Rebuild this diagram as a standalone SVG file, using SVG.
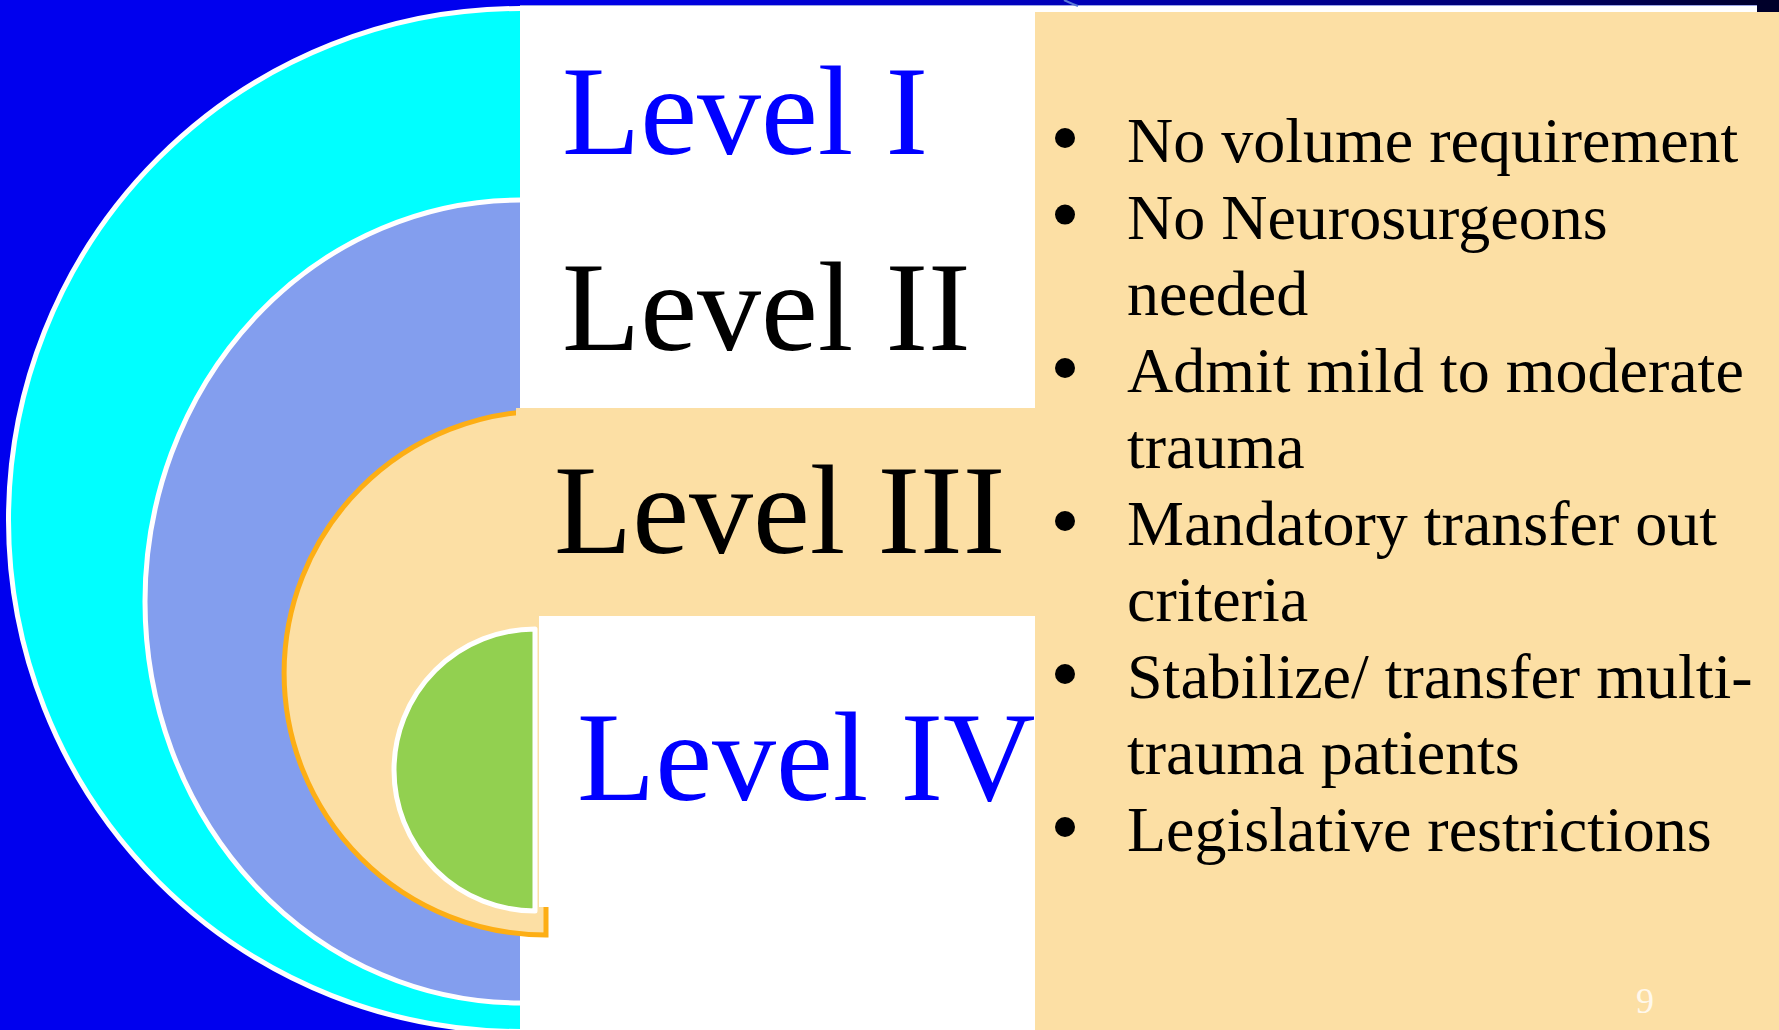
<svg xmlns="http://www.w3.org/2000/svg" width="1779" height="1030" viewBox="0 0 1779 1030">
  <defs>
    <linearGradient id="topStrip" x1="0" y1="0" x2="1779" y2="0" gradientUnits="userSpaceOnUse">
      <stop offset="0.29" stop-color="#0000EE"/>
      <stop offset="0.6" stop-color="#0000B8"/>
      <stop offset="0.85" stop-color="#000070"/>
      <stop offset="1" stop-color="#000028"/>
    </linearGradient>
  </defs>
  <style>
    .lvl { font-family: "Liberation Serif", "Times New Roman", serif; font-size: 128px; }
    .blue { fill: #0000FF; }
    .black { fill: #000000; }
    .bul { font-family: "Liberation Serif", "Times New Roman", serif; font-size: 64px; fill: #000000; }
    .dot { fill: #000000; }
    .ring { stroke: #FFFFFF; stroke-width: 5; fill: none; }
  </style>

  <!-- background -->
  <rect x="0" y="0" width="1779" height="1030" fill="#0000EE"/>
  <rect x="0" y="0" width="1779" height="6" fill="url(#topStrip)"/>
  <rect x="1757" y="0" width="22" height="12" fill="#00002A"/>
  <rect x="520" y="5" width="1237" height="1025" fill="#FFFFFF"/>
  <line x1="520" y1="5.5" x2="1757" y2="5.5" stroke="#9AA4E6" stroke-width="1"/>
  <path d="M1064,0 Q1070,3 1078,6" stroke="#5A78D8" stroke-width="2" fill="none"/>

  <!-- Level I : outer cyan ring -->
  <g id="level1">
    <path d="M520,8.5 A511.5,511.5 0 0 0 520,1031.5 Z" fill="#00FFFF"/>
    <path class="ring" d="M520,8.5 A511.5,511.5 0 0 0 520,1031.5"/>
    <text class="lvl blue" x="562" y="154">Level I</text>
  </g>

  <!-- Level II : periwinkle ring -->
  <g id="level2">
    <path d="M520,200 A375,401.5 0 0 0 520,1003 Z" fill="#839EEE"/>
    <path class="ring" d="M520,200 A375,401.5 0 0 0 520,1003"/>
    <text class="lvl black" x="562" y="350">Level II</text>
  </g>

  <!-- Level III : peach ring with orange outline -->
  <g id="level3">
    <path d="M546,411 A262,262 0 0 0 546,935 Z" fill="#FCDFA4" stroke="#FDAE14" stroke-width="5" stroke-linejoin="miter"/>
    <rect x="516" y="408" width="519" height="208" fill="#FCDFA4"/>
    <text class="lvl black" x="554" y="553">Level III</text>
  </g>

  <!-- Level IV : green core -->
  <g id="level4">
    <rect x="539" y="616" width="496" height="291" fill="#FFFFFF"/>
    <path d="M535,629 A141,141 0 0 0 535,911 Z" fill="#92D050" stroke="#FFFFFF" stroke-width="5" stroke-linejoin="round"/>
    <text class="lvl blue" x="577" y="800">Level IV</text>
  </g>

  <g id="connectors"/>

  <!-- details panel -->
  <g id="details">
    <rect x="1035" y="12" width="744" height="1018" fill="#FCDFA4"/>
    <circle class="dot" cx="1065" cy="138" r="10"/>
    <circle class="dot" cx="1065" cy="214.6" r="10"/>
    <circle class="dot" cx="1065" cy="368" r="10"/>
    <circle class="dot" cx="1065" cy="521" r="10"/>
    <circle class="dot" cx="1065" cy="674" r="10"/>
    <circle class="dot" cx="1065" cy="827" r="10"/>
    <text class="bul">
      <tspan x="1127" y="162">No volume requirement</tspan>
      <tspan x="1127" y="238.6">No Neurosurgeons</tspan>
      <tspan x="1127" y="315">needed</tspan>
      <tspan x="1127" y="392">Admit mild to moderate</tspan>
      <tspan x="1127" y="468">trauma</tspan>
      <tspan x="1127" y="545">Mandatory transfer out</tspan>
      <tspan x="1127" y="621">criteria</tspan>
      <tspan x="1127" y="698">Stabilize/ transfer multi-</tspan>
      <tspan x="1127" y="774">trauma patients</tspan>
      <tspan x="1127" y="851">Legislative restrictions</tspan>
    </text>
    <text x="1636" y="1013" font-family="Liberation Serif, Times New Roman, serif" font-size="36" fill="#FFF8EC">9</text>
  </g>
</svg>
